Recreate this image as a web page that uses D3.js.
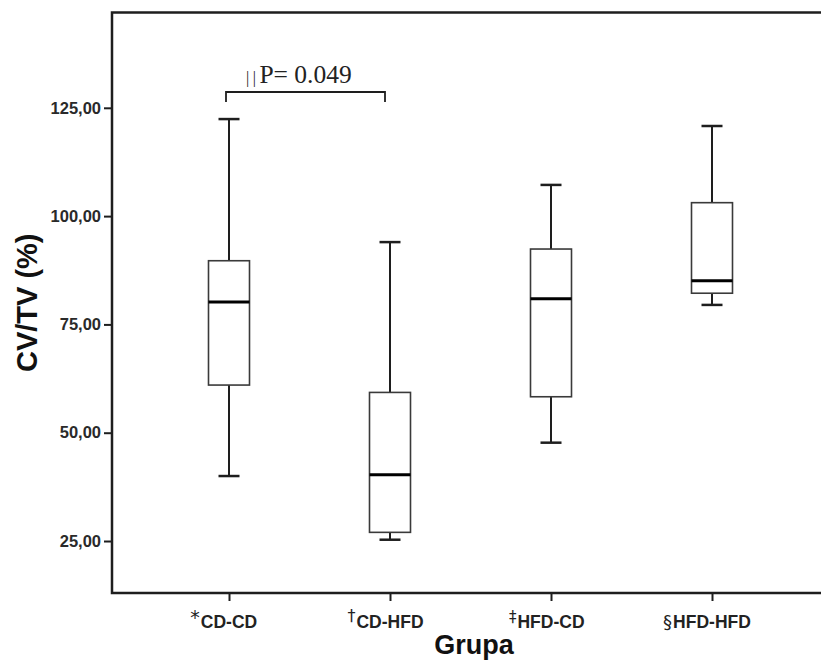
<!DOCTYPE html>
<html>
<head>
<meta charset="utf-8">
<script src="https://cdn.jsdelivr.net/npm/d3@7"></script>
<style>
  html, body { margin: 0; padding: 0; background: #fff; }
  svg { display: block; }
</style>
</head>
<body>
<svg id="chart" width="821" height="661"></svg>
<script>
// ---- data ----
const categories = ["CD-CD", "CD-HFD", "HFD-CD", "HFD-HFD"];
const symbols = ["*", "†", "‡", "§"];
const whiskerLow = [40.0, 25.3, 47.7, 79.5];
const q1 = [61.0, 27.0, 58.3, 82.2];
const median = [80.2, 40.3, 80.9, 85.1];
const q3 = [89.7, 59.3, 92.4, 103.1];
const whiskerHigh = [122.4, 94.0, 107.2, 120.8];
const yTicks = [25, 50, 75, 100, 125];
const yDomain = [13, 147];
const xTitle = "Grupa";
const yTitle = "CV/TV (%)";
const annotation = { from: "CD-CD", to: "CD-HFD", mark: "||", text: "P= 0.049" };

// ---- layout ----
const svg = d3.select("#chart");
const mLeft = 112, mTop = 12.5, mBottom = 593, mRight = 830;

const x = d3.scalePoint().domain(categories).range([148.5, 792.5]).padding(0.5);
const y = d3.scaleLinear().domain(yDomain).range([mBottom, mTop]);

const loc = d3.formatLocale({ decimal: ",", thousands: ".", grouping: [3], currency: ["", ""] });
const fmt = loc.format(".2f");

const boxW = 41, capW = 21;
const dark = "#1e1e1e";
const sans = "'Liberation Sans', Arial, sans-serif";

// y axis ticks
const yAxis = d3.axisLeft(y).tickValues(yTicks).tickFormat(fmt).tickSize(8).tickPadding(3).tickSizeOuter(0);
const gy = svg.append("g").attr("transform", `translate(${mLeft},0)`).call(yAxis);
gy.select(".domain").remove();
gy.selectAll(".tick line").attr("stroke", dark).attr("stroke-width", 2);
gy.selectAll(".tick text")
  .attr("fill", "#2a2a2a")
  .style("font-family", sans)
  .style("font-weight", "bold")
  .style("font-size", "16.5px");

// x axis ticks
const xAxis = d3.axisBottom(x).tickSize(8).tickFormat("").tickSizeOuter(0);
const gx = svg.append("g").attr("transform", `translate(0,${mBottom})`).call(xAxis);
gx.select(".domain").remove();
gx.selectAll(".tick line").attr("stroke", dark).attr("stroke-width", 2);

// x labels: main text centred on tick, symbol hanging to the left
const symStyle = {
  "*": { size: 19, y: 624 },
  "†": { size: 16, y: 621 },
  "‡": { size: 15, y: 622 },
  "§": { size: 18, y: 628 }
};
categories.forEach((c, i) => {
  const t = svg.append("text")
    .attr("x", x(c)).attr("y", 628)
    .attr("text-anchor", "middle")
    .style("font-family", sans).style("font-weight", "bold").style("font-size", "17.5px")
    .attr("fill", "#222")
    .text(c);
  const w = t.node().getComputedTextLength();
  const s = symStyle[symbols[i]];
  svg.append("text")
    .attr("x", x(c) - w / 2 - 1).attr("y", s.y)
    .attr("text-anchor", "end")
    .style("font-family", "'DejaVu Sans', sans-serif")
    .style("font-size", s.size + "px")
    .attr("fill", "#222")
    .text(symbols[i]);
});

// axis titles
svg.append("text")
  .attr("x", 474).attr("y", 654)
  .attr("text-anchor", "middle")
  .style("font-family", sans)
  .style("font-weight", "bold").style("font-size", "27px")
  .attr("fill", "#111")
  .text(xTitle);

svg.append("text")
  .attr("transform", `translate(37,${(mTop + mBottom) / 2}) rotate(-90)`)
  .attr("text-anchor", "middle")
  .style("font-family", sans)
  .style("font-weight", "bold").style("font-size", "29px")
  .attr("fill", "#111")
  .text(yTitle);

// boxes
const g = svg.append("g");
categories.forEach((c, i) => {
  const cx = x(c);
  g.append("line").attr("x1", cx).attr("x2", cx).attr("y1", y(q3[i])).attr("y2", y(whiskerHigh[i]))
    .attr("stroke", dark).attr("stroke-width", 2);
  g.append("line").attr("x1", cx).attr("x2", cx).attr("y1", y(q1[i])).attr("y2", y(whiskerLow[i]))
    .attr("stroke", dark).attr("stroke-width", 2);
  [whiskerHigh[i], whiskerLow[i]].forEach(v => {
    g.append("line").attr("x1", cx - capW / 2).attr("x2", cx + capW / 2).attr("y1", y(v)).attr("y2", y(v))
      .attr("stroke", dark).attr("stroke-width", 2.5);
  });
  g.append("rect").attr("x", cx - boxW / 2).attr("width", boxW)
    .attr("y", y(q3[i])).attr("height", y(q1[i]) - y(q3[i]))
    .attr("fill", "#fff").attr("stroke", "#3a3a3a").attr("stroke-width", 1.6);
  g.append("line").attr("x1", cx - boxW / 2).attr("x2", cx + boxW / 2).attr("y1", y(median[i])).attr("y2", y(median[i]))
    .attr("stroke", "#000").attr("stroke-width", 3);
});

// frame
svg.append("path")
  .attr("d", `M${mRight},${mTop} H${mLeft} V${mBottom} H${mRight}`)
  .attr("fill", "none").attr("stroke", dark).attr("stroke-width", 2.5);

// significance bracket
const bx1 = x(annotation.from) - 3, bx2 = x(annotation.to) - 5, by = 92;
svg.append("path")
  .attr("d", `M${bx1},${by + 10} V${by} H${bx2} V${by + 10}`)
  .attr("fill", "none").attr("stroke", dark).attr("stroke-width", 1.8);
const at = svg.append("text")
  .attr("x", bx1 + 20).attr("y", 83)
  .attr("text-anchor", "start")
  .style("font-family", "'Liberation Serif', 'Times New Roman', serif")
  .style("font-size", "25.5px")
  .attr("fill", "#222");
at.append("tspan").style("font-size", "16px").style("letter-spacing", "3.5px").text(annotation.mark);
at.append("tspan").text(annotation.text);
</script>
</body>
</html>
